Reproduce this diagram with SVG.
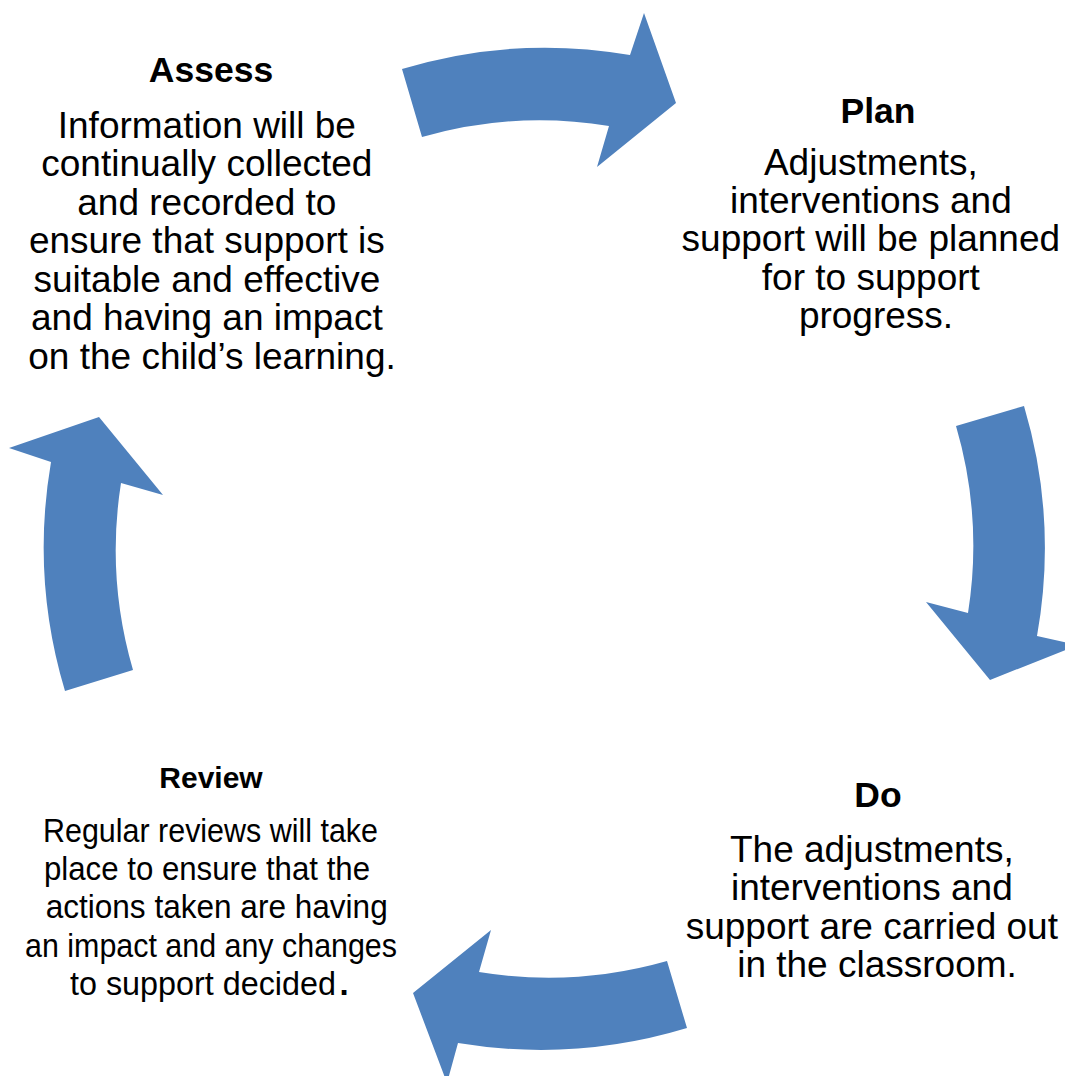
<svg xmlns="http://www.w3.org/2000/svg" width="1065" height="1076" viewBox="0 0 1065 1076">
<style>
.t{font-family:"Liberation Sans",Arial,sans-serif;fill:#000;text-anchor:middle}
.h{font-weight:bold;font-size:35.5px}
.b{font-size:37px}
.r{font-size:33px;text-anchor:start}
.arr{fill:#4F81BD;stroke:none}
</style>
<rect width="1065" height="1076" fill="#fff"/>
<g id="connectors">
<path class="arr" d="M402,69 A497,497 0 0 1 630,55 L644,13 L676,103 L597,167 L609,126 A425,425 0 0 0 422,137 Z"/>
<path class="arr" d="M1024,406 A499,499 0 0 1 1037,636 L1078,645 L990,680 L926,602 L968,613 A428,428 0 0 0 956,426 Z"/>
<path class="arr" d="M667,961 A433,433 0 0 1 479,972 L491,930 L413,993 L447,1083 L458,1043 A505,505 0 0 0 687,1028 Z"/>
<path class="arr" d="M65,691 A502,502 0 0 1 51,462 L9,448 L99,417 L163,495 L121,483 A429,429 0 0 0 133,670 Z"/>
</g>
<g id="assess">
<text class="t h" x="211" y="82">Assess</text>
<text class="t b">
<tspan x="212" y="137.5">Information will be</tspan>
<tspan x="212" y="176">continually collected</tspan>
<tspan x="212" y="214.5">and recorded to</tspan>
<tspan x="212" y="253">ensure that support is</tspan>
<tspan x="212" y="291.5">suitable and effective</tspan>
<tspan x="212" y="330">and having an impact</tspan>
<tspan x="212" y="368.5">on the child’s learning.</tspan>
</text>
</g>
<g id="plan">
<text class="t h" x="878" y="123">Plan</text>
<text class="t b">
<tspan x="876" y="175">Adjustments,</tspan>
<tspan x="876" y="213.2">interventions and</tspan>
<tspan x="876" y="251.4">support will be planned</tspan>
<tspan x="876" y="289.6">for to support</tspan>
<tspan x="876" y="327.8">progress.</tspan>
</text>
</g>
<g id="do">
<text class="t h" x="878" y="807">Do</text>
<text class="t b">
<tspan x="877" y="862">The adjustments,</tspan>
<tspan x="877" y="900.3">interventions and</tspan>
<tspan x="877" y="938.7">support are carried out</tspan>
<tspan x="877" y="977">in the classroom.</tspan>
</text>
</g>
<g id="review">
<text class="t" x="211" y="788" style="font-weight:bold;font-size:30px">Review</text>
<text class="t r" x="43" y="841.7" textLength="335" lengthAdjust="spacingAndGlyphs">Regular reviews will take</text>
<text class="t r" x="44" y="880" textLength="326" lengthAdjust="spacingAndGlyphs">place to ensure that the</text>
<text class="t r" x="45.7" y="918.3" textLength="342" lengthAdjust="spacingAndGlyphs">actions taken are having</text>
<text class="t r" x="25" y="956.7" textLength="372" lengthAdjust="spacingAndGlyphs">an impact and any changes</text>
<text class="t r" x="70" y="995" textLength="266" lengthAdjust="spacingAndGlyphs">to support decided</text>
<text class="t r" x="339.5" y="995" style="font-weight:bold">.</text>
</g>
</svg>
